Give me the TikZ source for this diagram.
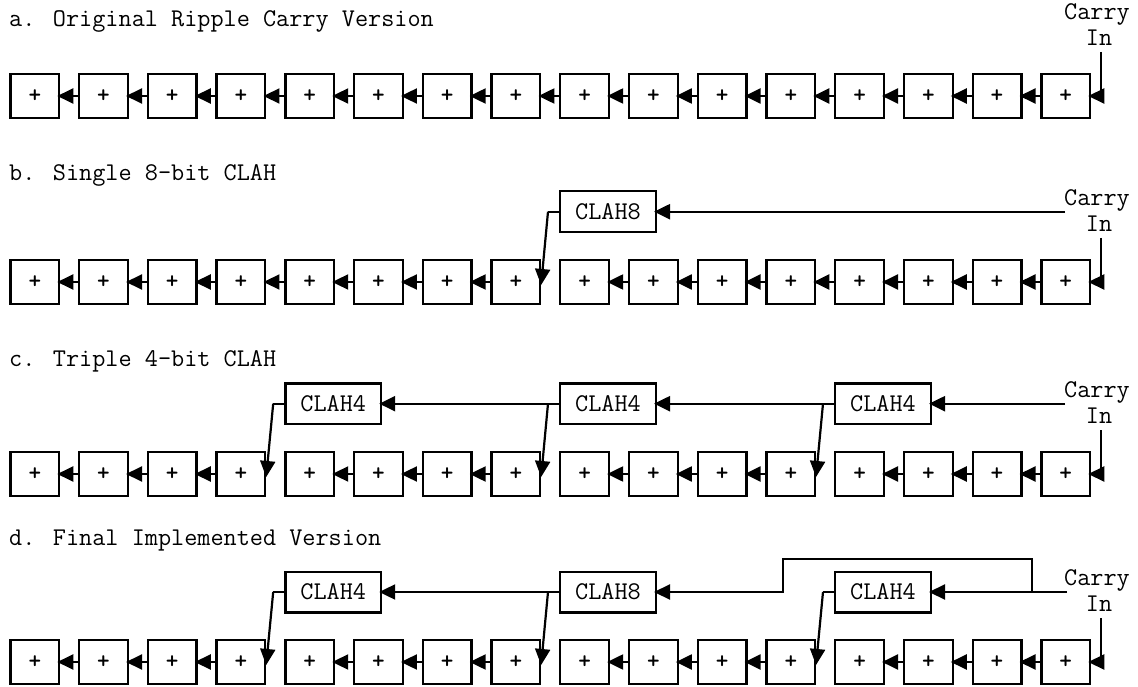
\documentclass[tikz,border=0pt]{standalone}
\usepackage{fontspec}
\usetikzlibrary{arrows.meta}
\tikzset{
  addbox/.style={draw, line width=2.3pt, minimum width=48.7pt, minimum height=43.7pt, inner sep=0pt, font=\ttfamily\bfseries\fontsize{24}{28}\selectfont},
  clahbox/.style={draw, line width=2.3pt, minimum width=95.7pt, minimum height=40.7pt, inner sep=0pt, font=\ttfamily\fontsize{25.5}{28}\selectfont},
  title/.style={anchor=base west, inner sep=0pt, font=\ttfamily\fontsize{25.5}{28}\selectfont},
  lbl/.style={inner sep=0pt, font=\ttfamily\fontsize{25.5}{28}\selectfont},
  wire/.style={line width=2.2pt},
  arr/.style={line width=2.2pt, -{Triangle[length=16pt,width=15pt]}, shorten >=-3pt}
}
\begin{document}
\begin{tikzpicture}[x=1pt,y=-1pt]
\useasboundingbox (0,0) rectangle (1138,687);

% titles
\node[title] (ta) at (9,26.7) {a. Original Ripple Carry Version};
\node[title] (tb) at (9,180.7) {b. Single 8-bit CLAH};
\node[title] (tc) at (9,366) {c. Triple 4-bit CLAH};
\node[title] (td) at (9,545) {d. Final Implemented Version};

% adder rows
\foreach \r/\yy in {a/96, b/282, c/474, d/662}{
  \foreach \i in {1,...,16}{
    \node[addbox] (\r\i) at ({34.8+(\i-1)*68.73},\yy) {+};
  }
}

% carry in labels
\foreach \r/\yy in {a/96, b/282, c/474, d/662}{
  \node[lbl] (\r carry) at (1097,\yy-82) {Carry};
  \node[lbl] (\r in) at (1099,\yy-58) {In};
  \coordinate (\r vin) at (1101,\yy-44);
  \draw[arr] (\r vin) |- (\r16.east);
}

% row a: full ripple
\foreach \i [evaluate=\i as \j using int(\i+1)] in {1,...,15}{
  \draw[arr] (a\j.west) -- (a\i.east);
}

% row b
\foreach \i [evaluate=\i as \j using int(\i+1)] in {1,...,7,9,10,...,15}{
  \draw[arr] (b\j.west) -- (b\i.east);
}
\node[clahbox] (bl2) at (608,211.7) {CLAH8};
\coordinate (bcin) at (1065,211.7);
\draw[arr] (bcin) -- (bl2.east);
\draw[wire] (bl2.west) -- ++(-11,0) coordinate (bj2);
\draw[arr] (bj2) -- (b8.east);

% row c
\foreach \i [evaluate=\i as \j using int(\i+1)] in {1,2,3,5,6,7,9,10,11,13,14,15}{
  \draw[arr] (c\j.west) -- (c\i.east);
}
\node[clahbox] (cl1) at (333.2,403.7) {CLAH4};
\node[clahbox] (cl2) at (608,403.7) {CLAH4};
\node[clahbox] (cl3) at (883,403.7) {CLAH4};
\coordinate (ccin) at (1065,403.7);
\draw[arr] (ccin) -- (cl3.east);
\draw[wire] (cl3.west) -- ++(-11,0) coordinate (cj3);
\draw[arr] (cj3) -- (c12.east);
\draw[arr] (cj3) -- (cl2.east);
\draw[wire] (cl2.west) -- ++(-11,0) coordinate (cj2);
\draw[arr] (cj2) -- (c8.east);
\draw[arr] (cj2) -- (cl1.east);
\draw[wire] (cl1.west) -- ++(-11,0) coordinate (cj1);
\draw[arr] (cj1) -- (c4.east);

% row d
\foreach \i [evaluate=\i as \j using int(\i+1)] in {1,2,3,5,6,7,9,10,11,13,14,15}{
  \draw[arr] (d\j.west) -- (d\i.east);
}
\node[clahbox] (dl1) at (333.2,592) {CLAH4};
\node[clahbox] (dl2) at (608,592) {CLAH8};
\node[clahbox] (dl3) at (883,592) {CLAH4};
\coordinate (dcin) at (1067,592);
\coordinate (dk) at (1031.7,592);
\coordinate (dtop) at (1031.7,559.3);
\coordinate (dtl) at (783.3,559.3);
\draw[arr] (dcin) -- (dl3.east);
\draw[arr] (dk) -- (dtop) -- (dtl) |- (dl2.east);
\draw[wire] (dl3.west) -- ++(-11,0) coordinate (dj3);
\draw[arr] (dj3) -- (d12.east);
\draw[wire] (dl2.west) -- ++(-11,0) coordinate (dj2);
\draw[arr] (dj2) -- (d8.east);
\draw[arr] (dj2) -- (dl1.east);
\draw[wire] (dl1.west) -- ++(-11,0) coordinate (dj1);
\draw[arr] (dj1) -- (d4.east);
\end{tikzpicture}
\end{document}
